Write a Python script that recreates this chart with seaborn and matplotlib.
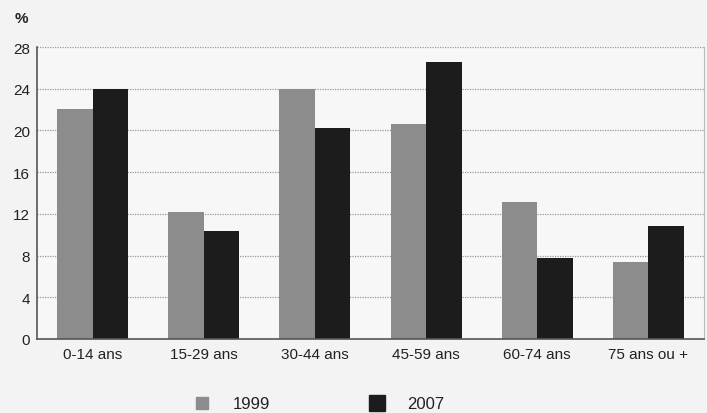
import matplotlib
matplotlib.use("Agg")
import matplotlib.pyplot as plt
from matplotlib.lines import Line2D
import seaborn as sns
import pandas as pd

categories = ["0-14 ans", "15-29 ans", "30-44 ans", "45-59 ans", "60-74 ans", "75 ans ou +"]
values_1999 = [22.1, 12.2, 24.0, 20.6, 13.1, 7.4]
values_2007 = [24.0, 10.4, 20.2, 26.6, 7.8, 10.8]
series = ["1999", "2007"]
yticks = [0, 4, 8, 12, 16, 20, 24, 28]

df = pd.DataFrame({
    "cat": categories * 2,
    "val": values_1999 + values_2007,
    "year": [series[0]] * len(categories) + [series[1]] * len(categories),
})

sns.set_theme(style="white")
plt.rcParams["font.family"] = ["Liberation Sans", "DejaVu Sans"]

colors = {"1999": "#8c8c8c", "2007": "#1c1c1c"}
bg = "#f3f3f3"

fig = plt.figure(figsize=(7.07, 4.14), dpi=100, facecolor=bg)
ax = fig.add_axes([37 / 707, 1 - 340 / 414, (704 - 37) / 707, (340 - 48) / 414])
ax.set_facecolor("#f7f7f7")

sns.barplot(data=df, x="cat", y="val", hue="year", hue_order=series, order=categories,
            palette=colors, width=0.64, gap=0, saturation=1, ax=ax, legend=False,
            edgecolor="none")

ax.set_ylim(0, 28)
ax.set_yticks(yticks)
ax.set_yticklabels([str(t) for t in yticks], fontsize=11, color="#222222")
ax.tick_params(axis="x", labelsize=11, colors="#222222", length=0, pad=6)
ax.tick_params(axis="y", length=0, pad=5)
ax.set_xlabel("")
ax.set_ylabel("")
ax.set_xlim(-0.5, len(categories) - 0.5)

ax.yaxis.grid(True, color="#9a9a9a", linestyle=(0, (1, 1)), linewidth=0.9)
ax.set_axisbelow(True)
for s in ["left", "bottom"]:
    ax.spines[s].set_color("#555555")
    ax.spines[s].set_linewidth(1.2)
ax.spines["top"].set_visible(False)
ax.spines["right"].set_color("#bbbbbb")
ax.spines["right"].set_linewidth(0.8)

fig.text(15 / 707, 1 - 19 / 414, "%", fontsize=11, color="#222222", va="center", ha="left",
         fontweight="bold")

handles = [Line2D([], [], marker="s", linestyle="none", markersize=ms,
                  markerfacecolor=colors[s], markeredgecolor=colors[s])
           for s, ms in zip(series, [9, 11])]
fig.legend(handles, series, loc="center", bbox_to_anchor=(315 / 707, 1 - 405 / 414),
           ncol=2, frameon=False, fontsize=12, handletextpad=0.85, columnspacing=5.4,
           labelcolor="#222222")

fig.savefig("out.png", dpi=100, facecolor=bg)
